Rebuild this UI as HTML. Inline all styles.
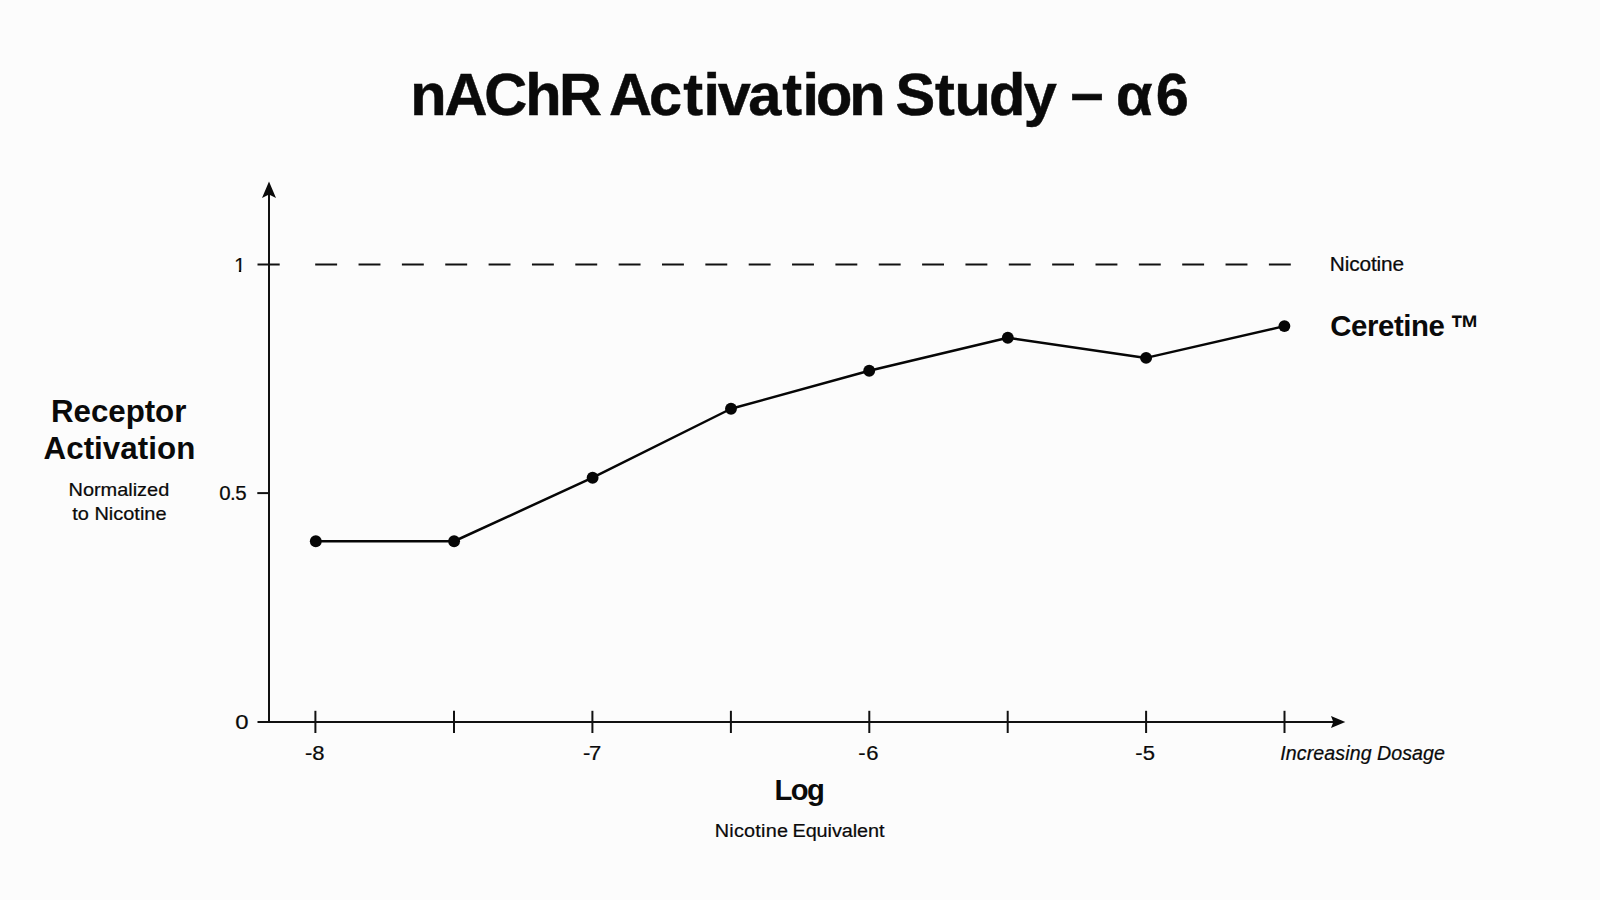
<!DOCTYPE html>
<html lang="en">
<head>
<meta charset="utf-8">
<title>nAChR Activation Study – α6</title>
<style>
  html, body { margin: 0; padding: 0; }
  body { width: 1600px; height: 900px; overflow: hidden; background: #fcfcfc; }
  svg { display: block; position: absolute; left: 0; top: 0; }
  text { font-family: "Liberation Sans", Arial, Helvetica, sans-serif; fill: #0a0a0a; white-space: pre; }
  text { stroke: #0a0a0a; stroke-width: 0.22px; }
  .b { font-weight: 700; stroke-width: 0; }
  #title { stroke: #0a0a0a; stroke-width: 0.5px; }
  .i { font-style: italic; }
  .ax { stroke: #111; stroke-width: 2; fill: none; }
  .ln { stroke: #060606; stroke-width: 2.5; fill: none; stroke-linejoin: round; }
  .pt { fill: #060606; }
</style>
</head>
<body>
<svg width="1600" height="900" viewBox="0 0 1600 900">
  <rect x="0" y="0" width="1600" height="900" fill="#fcfcfc"/>

  <!-- Axes -->
  <line class="ax" x1="269" y1="194" x2="269" y2="723"/>
  <line class="ax" x1="257.5" y1="722" x2="1334" y2="722"/>
  <path d="M269 181.5 L276 198 L269 194.5 L262 198 Z" fill="#0a0a0a"/>
  <path d="M1345.3 722 L1331 716 L1333.3 722 L1331 728 Z" fill="#0a0a0a"/>

  <!-- Y ticks -->
  <line class="ax" x1="257.5" y1="264.5" x2="279.7" y2="264.5"/>
  <line class="ax" x1="257.3" y1="493.1" x2="269" y2="493.1"/>

  <!-- Dashed reference line -->
  <line class="ax" x1="315.2" y1="264.5" x2="1291.5" y2="264.5" stroke-dasharray="21.9 21.45"/>

  <!-- X ticks -->
  <g class="ax">
    <line x1="315.4" y1="710.8" x2="315.4" y2="733"/>
    <line x1="454.0" y1="710.8" x2="454.0" y2="733"/>
    <line x1="592.4" y1="710.8" x2="592.4" y2="733"/>
    <line x1="730.9" y1="710.8" x2="730.9" y2="733"/>
    <line x1="869.3" y1="710.8" x2="869.3" y2="733"/>
    <line x1="1007.7" y1="710.8" x2="1007.7" y2="733"/>
    <line x1="1146.1" y1="710.8" x2="1146.1" y2="733"/>
    <line x1="1284.5" y1="710.8" x2="1284.5" y2="733"/>
  </g>

  <!-- Data line -->
  <polyline class="ln" points="315.8,541.25 454.1,541.25 592.6,477.7 731.0,408.75 869.2,370.75 1007.8,337.8 1146.1,357.9 1284.4,326.1"/>
  <g class="pt">
    <circle cx="315.8" cy="541.25" r="5.95"/>
    <circle cx="454.1" cy="541.25" r="5.95"/>
    <circle cx="592.6" cy="477.7" r="5.95"/>
    <circle cx="731.0" cy="408.75" r="5.95"/>
    <circle cx="869.2" cy="370.75" r="5.95"/>
    <circle cx="1007.8" cy="337.8" r="5.95"/>
    <circle cx="1146.1" cy="357.9" r="5.95"/>
    <circle cx="1284.4" cy="326.1" r="5.95"/>
  </g>

  <defs>
    <clipPath id="c1"><rect x="225" y="250" width="30" height="19.9"/><rect x="238.85" y="250" width="2.35" height="30"/></clipPath>
  </defs>
  <!-- Text -->
  <text id="title" class="b" font-size="59.5" y="115.3"><tspan id="s_t1" x="410.21 444.56 484.21 525.35 559.04" y="115.3">nAChR</tspan> <tspan id="s_t2" x="609.11 649.06 683.19 703.41 717.67 748.24 782.19 802.61 815.93 849.26" y="115.3">Activation</tspan> <tspan id="s_t3" x="895.51 935.12 954.62 989.12 1023.83" y="115.3">Study</tspan> <tspan id="s_t4" x="1070.54" y="113.2">–</tspan> <tspan id="s_t5" x="1116.00 1155.64" y="115.3">α6</tspan></text>
  <text id="rec" class="b" font-size="31.3" y="421.5"><tspan id="s_rec" x="51.00" letter-spacing="-0.04">Receptor</tspan></text>
  <text id="act" class="b" font-size="31.3" y="458.9"><tspan id="s_act" x="43.50" letter-spacing="0.06">Activation</tspan></text>
  <text id="norm" font-size="19.0" y="495.8" transform="scale(1.05,1.0)"><tspan id="s_norm" x="65.24" letter-spacing="-0.01">Normalized</tspan></text>
  <text id="tonic" font-size="19.0" y="520.5" transform="scale(1.05,1.0)"><tspan id="s_tonic1" x="68.81" letter-spacing="0.01">to Nicotine</tspan></text>
  <text id="y1" font-size="19.9" y="271.7" clip-path="url(#c1)"><tspan id="s_y1" x="234.25">1</tspan></text>
  <text id="y05" font-size="19.7" y="500.5" transform="scale(1.04,1.0)"><tspan id="s_y05" x="210.82" letter-spacing="-0.48">0.5</tspan></text>
  <text id="y0" font-size="19.9" y="729.0" transform="scale(1.2,1.0)"><tspan id="s_y0" x="196.04">0</tspan></text>
  <text id="x8" font-size="19.7" y="760.2" transform="scale(1.12,1.0)"><tspan id="s_x8" x="272.32">-8</tspan></text>
  <text id="x7" font-size="19.7" y="760.2" transform="scale(1.12,1.0)"><tspan id="s_x7" x="520.54" letter-spacing="-1.29">-7</tspan></text>
  <text id="x6" font-size="19.7" y="760.2" transform="scale(1.12,1.0)"><tspan id="s_x6" x="766.29" letter-spacing="0.58">-6</tspan></text>
  <text id="x5" font-size="19.7" y="760.2" transform="scale(1.12,1.0)"><tspan id="s_x5" x="1013.62" letter-spacing="0.13">-5</tspan></text>
  <text id="incr" class="i" font-size="19.6" y="760.4"><tspan id="s_inc1" x="1280.25" letter-spacing="0.10">Increasing</tspan> <tspan id="s_inc2" x="1377.00" letter-spacing="0.09">Dosage</tspan></text>
  <text id="log" class="b" font-size="29.2" y="800.25"><tspan id="s_log" x="774.40 790.70 806.95">Log</tspan></text>
  <text id="niceq" font-size="19.0" y="836.9" transform="scale(1.045,1.0)"><tspan id="s_ne1" x="683.97" letter-spacing="0.22">Nicotine</tspan> <tspan id="s_ne2" x="758.37" letter-spacing="-0.07">Equivalent</tspan></text>
  <text id="nic" font-size="19.5" y="271.25" transform="scale(1.07,1.0)"><tspan id="s_nic" x="1242.76" letter-spacing="-0.13">Nicotine</tspan></text>
  <text id="cer" class="b" font-size="29.4" y="336.0"><tspan id="s_cer1" x="1330.25" letter-spacing="-0.43">Ceretine</tspan></text>
  <text id="tm" class="b" font-size="28.6" y="262.08" transform="scale(1.04,1.3)"><tspan id="s_cer2" x="1394.47">™</tspan></text>
</svg>
</body>
</html>
